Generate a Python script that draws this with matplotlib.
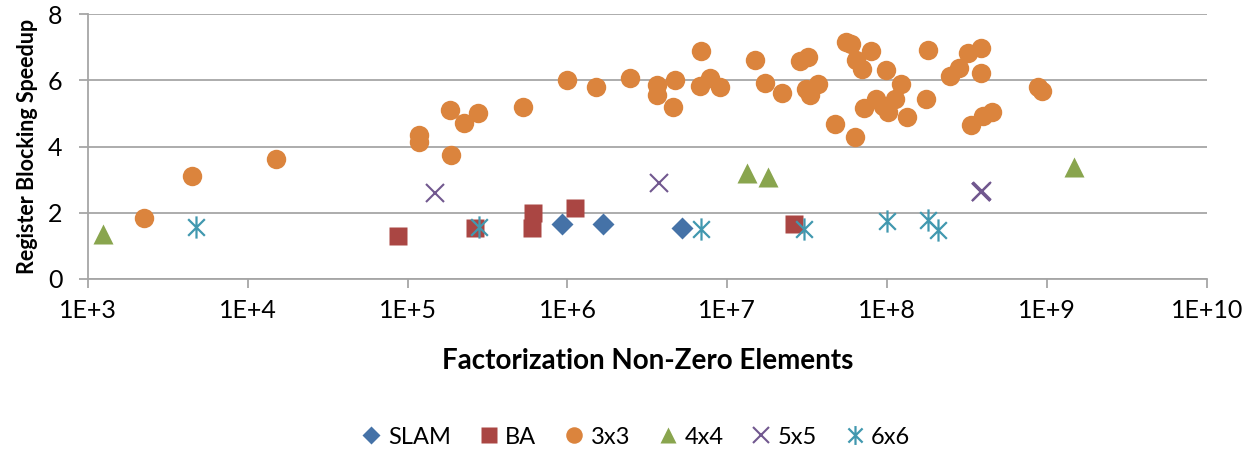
import numpy as np
import matplotlib
matplotlib.use('Agg')
import matplotlib.pyplot as plt
from matplotlib.path import Path

plt.rcParams['font.family'] = ['Lato', 'DejaVu Sans']

# data (x = non-zero elements, y = speedup)
slam_x = [9.3e5, 1.66e6, 5.2e6]
slam_y = [1.65, 1.65, 1.54]

ba_x = [8.65e4, 2.64e5, 6.1e5, 6.0e5, 1.11e6, 2.62e7]
ba_y = [1.30, 1.54, 2.00, 1.54, 2.15, 1.65]

b3_x = [2.25e3, 4.5e3, 1.5e4, 1.18e5, 1.18e5, 1.84e5, 1.88e5, 2.26e5, 2.75e5,
        5.3e5, 1.0e6, 1.51e6, 2.46e6, 3.64e6, 3.64e6, 4.72e6, 4.59e6, 6.84e6,
        6.73e6, 7.8e6, 9.0e6, 1.49e7, 1.73e7, 2.21e7, 2.84e7, 3.21e7, 3.10e7,
        3.28e7, 3.7e7, 5.5e7, 5.9e7, 6.4e7, 7.0e7, 7.9e7, 9.8e7, 1.22e8,
        4.7e7, 6.3e7, 7.2e7, 8.5e7, 9.4e7, 1.01e8, 1.12e8, 1.33e8, 1.76e8,
        1.80e8, 2.47e8, 2.82e8, 3.21e8, 3.89e8, 3.85e8, 3.33e8, 3.95e8, 4.56e8,
        8.8e8, 9.3e8]
b3_y = [1.83, 3.11, 3.61, 4.35, 4.15, 5.10, 3.74, 4.72, 5.02,
        5.20, 6.01, 5.79, 6.08, 5.86, 5.56, 6.01, 5.19, 6.89,
        5.83, 6.08, 5.81, 6.62, 5.91, 5.63, 6.59, 6.70, 5.73,
        5.56, 5.88, 7.17, 7.10, 6.62, 6.34, 6.90, 6.31, 5.89,
        4.68, 4.30, 5.17, 5.43, 5.23, 5.05, 5.43, 4.90, 5.44,
        6.92, 6.14, 6.37, 6.82, 6.97, 6.21, 4.65, 4.92, 5.03,
        5.79, 5.68]

b4_x = [1.25e3, 1.32e7, 1.79e7, 1.47e9]
b4_y = [1.34, 3.21, 3.09, 3.39]

b5_x = [1.48e5, 3.72e6, 3.89e8, 3.92e8, 3.86e8]
b5_y = [2.60, 2.91, 2.63, 2.65, 2.61]

b6_x = [4.74e3, 2.80e5, 6.84e6, 3.01e7, 1.0e8, 1.79e8, 2.08e8]
b6_y = [1.57, 1.57, 1.52, 1.52, 1.76, 1.78, 1.49]

xticks = [1e3, 1e4, 1e5, 1e6, 1e7, 1e8, 1e9, 1e10]
xtick_labels = ['1E+3', '1E+4', '1E+5', '1E+6', '1E+7', '1E+8', '1E+9', '1E+10']
yticks = [0, 2, 4, 6, 8]

# excel style asterisk: vertical bar plus an x
ast = Path([(0, -1), (0, 1), (-0.75, -0.75), (0.75, 0.75), (-0.75, 0.75), (0.75, -0.75)],
           [Path.MOVETO, Path.LINETO, Path.MOVETO, Path.LINETO, Path.MOVETO, Path.LINETO])

fig = plt.figure(figsize=(12.6, 4.54), dpi=100)
ax = fig.add_axes([0.0698, 0.386, 0.888, 0.5825])

ax.plot(slam_x, slam_y, ls='none', marker='D', ms=11, color='#4572A7', mec='none', label='SLAM')
ax.plot(ba_x, ba_y, ls='none', marker='s', ms=13.5, color='#AA4643', mec='none', label='BA')
ax.plot(b3_x, b3_y, ls='none', marker='o', ms=14, color='#DB843D', mec='none', label='3x3')
ax.plot(b4_x, b4_y, ls='none', marker='^', ms=14, color='#89A54E', mec='none', label='4x4')
ax.plot(b5_x, b5_y, ls='none', marker='x', ms=13, color='#71588F', mew=1.5, label='5x5')
ax.plot(b6_x, b6_y, ls='none', marker=ast, ms=16, color='#4198AF', mew=1.6,
        fillstyle='none', label='6x6')

ax.set_xscale('log')
ax.set_xlim(1e3, 1e10)
ax.set_ylim(0, 8)
ax.set_xticks(xticks)
ax.set_xticklabels(xtick_labels)
ax.minorticks_off()
ax.set_yticks(yticks)

ax.yaxis.grid(True, color='#A6A6A6', lw=1.3)
ax.set_axisbelow(True)
for s in ['top', 'right']:
    ax.spines[s].set_visible(False)
for s in ['left', 'bottom']:
    ax.spines[s].set_color('#A6A6A6')
    ax.spines[s].set_linewidth(1.3)
ax.tick_params(axis='both', colors='#A6A6A6', length=6.5, width=1.3, labelsize=18,
               labelcolor='black')
ax.tick_params(axis='y', pad=12)
ax.tick_params(axis='x', pad=8)

ax.set_xlabel('Factorization Non-Zero Elements', fontsize=20, fontweight='bold', labelpad=19)
ax.set_ylabel('Register Blocking Speedup', fontsize=15.5, fontweight='bold', labelpad=7)

fig.legend(loc='center', bbox_to_anchor=(0.503, 0.037), ncol=6, frameon=False,
           fontsize=17, handletextpad=0.1, columnspacing=1.0, markerscale=0.85,
           handlelength=1.2)

fig.savefig('out.png', dpi=100)
